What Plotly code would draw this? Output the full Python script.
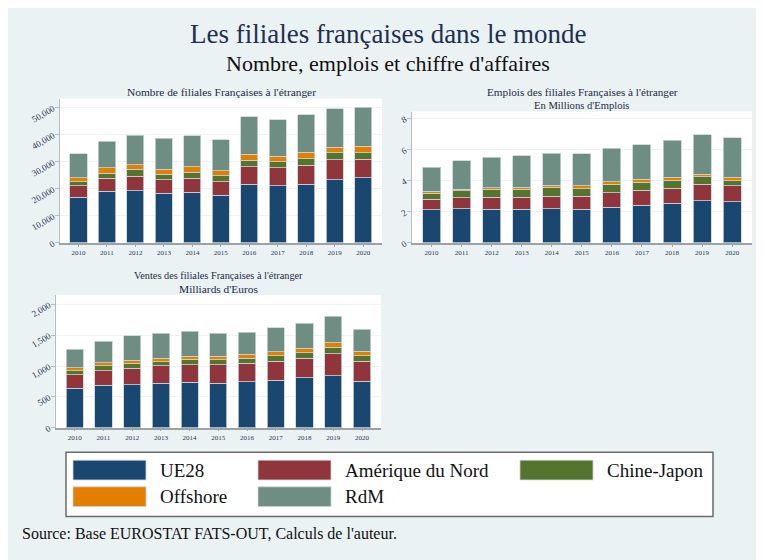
import plotly.graph_objects as go

OFF = 8  # browser body margin
W, H = 764 - OFF, 560 - OFF

years = list(range(2010, 2021))
year_labels = [str(y) for y in years]
series = ["UE28", "Amérique du Nord", "Chine-Japon", "Offshore", "RdM"]
colors = ["#1a476f", "#90353b", "#55752f", "#e37e00", "#6e8e84"]

# Nombre de filiales
nombre_ue28 = [16900, 19050, 19300, 18300, 18700, 17700, 21800, 21200, 21800, 23400, 24150]
nombre_amn = [4200, 4850, 5450, 5000, 5200, 4900, 6400, 6600, 7000, 7300, 6750]
nombre_cj = [1500, 1950, 2450, 2100, 2300, 2300, 2400, 2200, 2400, 2700, 2500]
nombre_off = [1500, 1950, 1700, 1900, 2000, 1900, 2200, 2000, 2300, 2000, 2400]
nombre_rdm = [8900, 9900, 11000, 11400, 11500, 11400, 13900, 13500, 14000, 14200, 14400]

# Emplois (millions)
emplois_ue28 = [2.12, 2.19, 2.17, 2.17, 2.19, 2.17, 2.31, 2.42, 2.55, 2.70, 2.65]
emplois_amn = [0.68, 0.72, 0.76, 0.78, 0.82, 0.82, 0.92, 0.96, 0.97, 1.06, 1.04]
emplois_cj = [0.41, 0.45, 0.51, 0.49, 0.58, 0.51, 0.53, 0.53, 0.51, 0.49, 0.32]
emplois_off = [0.10, 0.10, 0.11, 0.13, 0.13, 0.17, 0.17, 0.17, 0.19, 0.17, 0.21]
emplois_rdm = [1.57, 1.83, 1.97, 2.04, 2.05, 2.06, 2.16, 2.23, 2.38, 2.54, 2.55]

# Ventes (milliards d'euros)
ventes_ue28 = [643, 692, 697, 724, 735, 724, 745, 772, 810, 842, 751]
ventes_amn = [215, 236, 268, 279, 289, 295, 301, 306, 321, 359, 327]
ventes_cj = [70, 75, 81, 69, 86, 86, 85, 91, 86, 107, 86]
ventes_off = [43, 53, 48, 54, 48, 53, 59, 64, 75, 75, 75]
ventes_rdm = [305, 349, 397, 408, 408, 376, 360, 392, 402, 424, 359]

nombre_ticks = [0, 10000, 20000, 30000, 40000, 50000]
emplois_ticks = [0, 2, 4, 6, 8]
ventes_ticks = [0, 500, 1000, 1500, 2000]

panels = [
    dict(data=[nombre_ue28, nombre_amn, nombre_cj, nombre_off, nombre_rdm],
         ticks=nombre_ticks, rng=[0, 53300], px=(60, 382), py=(100, 246),
         title=[("Nombre de filiales Françaises à l'étranger", 11.4)], ty=93),
    dict(data=[emplois_ue28, emplois_amn, emplois_cj, emplois_off, emplois_rdm],
         ticks=emplois_ticks, rng=[0, 8.44], px=(412, 752), py=(113, 246),
         title=[("Emplois des filiales Françaises à l'étranger", 11.2), ("En Millions d'Emplois", 10.6)], ty=93),
    dict(data=[ventes_ue28, ventes_amn, ventes_cj, ventes_off, ventes_rdm],
         ticks=ventes_ticks, rng=[0, 2150], px=(56, 381), py=(299, 433),
         title=[("Ventes des filiales Françaises à l'étranger", 10.3), ("Milliards d'Euros", 11.4)], ty=279),
]

SERIF = "Liberation Serif"
BG = "#eaf2f3"
fig = go.Figure()
shapes = []
annotations = []


def fx(p):
    return (p - OFF) / W


def fy(p):
    return 1 - (p - OFF) / H


for i, p in enumerate(panels):
    n = "" if i == 0 else str(i + 1)
    xa, ya = "x" + n, "y" + n
    for vals, name, col in zip(p["data"], series, colors):
        fig.add_trace(go.Bar(x=years, y=vals, name=name, xaxis=xa, yaxis=ya,
                             width=0.6, marker=dict(color=col, line=dict(color="#c9d3d6", width=0.8)),
                             showlegend=False))
    fig.layout["xaxis" + n] = dict(
        domain=[fx(p["px"][0]), fx(p["px"][1])], anchor=ya, range=[2009.35, 2020.66],
        tickvals=years, ticktext=year_labels, tickfont=dict(family=SERIF, size=7, color="#2b3a55"),
        showline=True, linecolor="#9aa3a7", linewidth=1.5, ticks="outside", ticklen=2,
        tickcolor="#9aa3a7", showgrid=False, zeroline=False, fixedrange=True)
    fmt = ",d" if i != 1 else "d"
    fig.layout["yaxis" + n] = dict(
        domain=[fy(p["py"][1]), fy(p["py"][0])], anchor=xa, range=p["rng"],
        tickvals=p["ticks"], tickformat=fmt, tickangle=-30,
        tickfont=dict(family=SERIF, size=9, color="#2b3a55"),
        showline=True, linecolor="#b5bdc1", linewidth=1, ticks="outside", ticklen=4,
        tickcolor="#b5bdc1", showgrid=True, gridcolor="#eef3f4", gridwidth=1,
        zeroline=False, fixedrange=True)
    shapes.append(dict(type="rect", xref=xa + " domain", yref=ya + " domain", x0=0, x1=1, y0=0, y1=1,
                       fillcolor="white", line=dict(width=0), layer="below"))
    cx = fx((p["px"][0] + p["px"][1]) / 2)
    for k, (line, size) in enumerate(p["title"]):
        annotations.append(dict(text=line, xref="paper", yref="paper", x=cx, y=fy(p["ty"] + 13.5 * k),
                                showarrow=False, xanchor="center", yanchor="middle",
                                font=dict(family=SERIF, size=size, color="#1e2a44")))

# Main titles
annotations.append(dict(text="Les filiales françaises dans le monde", xref="paper", yref="paper",
                        x=fx(388.5), y=fy(34), showarrow=False, xanchor="center", yanchor="middle",
                        font=dict(family=SERIF, size=27, color="#1e2f4f")))
annotations.append(dict(text="Nombre, emplois et chiffre d'affaires", xref="paper", yref="paper",
                        x=fx(388), y=fy(64), showarrow=False, xanchor="center", yanchor="middle",
                        font=dict(family=SERIF, size=22, color="#111111")))

# Legend box
shapes.append(dict(type="rect", xref="paper", yref="paper", x0=fx(66), x1=fx(713), y0=fy(523), y1=fy(458),
                   fillcolor="white", line=dict(color="#6b6b6b", width=1.5), layer="above"))
legend_pos = [(73, 476), (258, 476), (520, 476), (73, 503), (258, 503)]
for (lx, ly), name, col in zip(legend_pos, series, colors):
    shapes.append(dict(type="rect", xref="paper", yref="paper", x0=fx(lx), x1=fx(lx + 73),
                       y0=fy(ly + 10), y1=fy(ly - 10), fillcolor=col,
                       line=dict(color="#c9d3d6", width=0.8), layer="above"))
    annotations.append(dict(text=name, xref="paper", yref="paper", x=fx(lx + 85), y=fy(ly),
                            showarrow=False, xanchor="left", yanchor="middle",
                            font=dict(family=SERIF, size=19, color="#111111")))

annotations.append(dict(text="Source: Base EUROSTAT FATS-OUT, Calculs de l'auteur.", xref="paper", yref="paper",
                        x=fx(20), y=fy(540), showarrow=False, xanchor="left", yanchor="middle",
                        font=dict(family=SERIF, size=16, color="#111111")))

fig.update_layout(width=W, height=H, margin=dict(l=0, r=0, t=0, b=0), barmode="stack",
                  paper_bgcolor=BG, plot_bgcolor="white", shapes=shapes, annotations=annotations,
                  bargap=0.4, showlegend=False)

fig.write_html("out.html")
